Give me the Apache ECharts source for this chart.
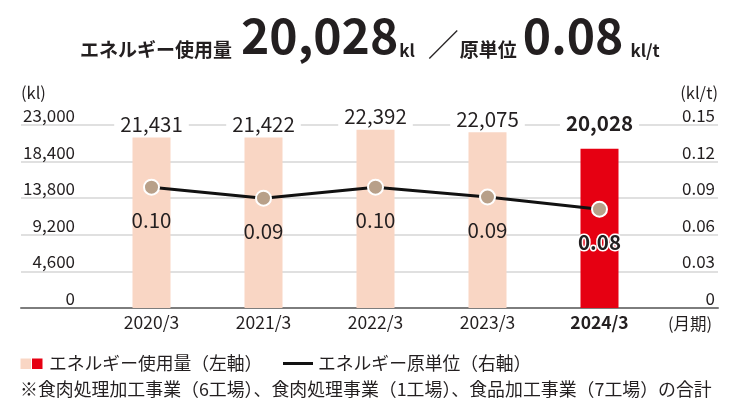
<!DOCTYPE html>
<html>
<head>
<meta charset="UTF-8">
<title>エネルギー使用量と原単位</title>
<script src="https://cdn.jsdelivr.net/npm/echarts/dist/echarts.min.js"></script>
<style>
  html, body { margin: 0; padding: 0; background: #fff; }
  #chart { width: 740px; height: 416px; }
</style>
</head>
<body>
<div id="chart"></div>
<script>
// データ
var periods = ['2020/3', '2021/3', '2022/3', '2023/3', '2024/3'];
var usage = [21431, 21422, 22392, 22075, 20028];        // kl
var intensity = [0.099, 0.090, 0.099, 0.091, 0.081];     // kl/t
var usageMax = 23000, usageStep = 4600;
var intensityMax = 0.15, intensityStep = 0.03;

var FONT = '"Noto Sans CJK JP", "Noto Sans", sans-serif';
var TXT = '#231f20';
var PINK = '#f9d6c4';
var RED = '#e60012';
var last = periods.length - 1;

var top0 = 125, bottom0 = 416 - 308;

var myChart = echarts.init(document.getElementById('chart'));

var option = {
    animation: false,
    backgroundColor: '#fff',
    textStyle: { fontFamily: FONT, color: TXT },
    title: {
        left: 80, top: 21, padding: 0,
        text: '{a|エネルギー使用量}{b|' + usage[last].toLocaleString('en-US') + '}{c|kl}{d|／}{e|原単位}{f|' +
              intensity[last].toFixed(2) + '}{g|kl/t}',
        textStyle: {
            rich: {
                a: { fontFamily: FONT, fontSize: 19, fontWeight: 'bold', color: TXT, lineHeight: 15, verticalAlign: 'bottom' },
                b: { fontFamily: FONT, fontSize: 48, fontWeight: 'bold', color: TXT, lineHeight: 38.4, verticalAlign: 'bottom', padding: [0, 0, 0, 9] },
                c: { fontFamily: FONT, fontSize: 17, fontWeight: 'bold', color: TXT, lineHeight: 13.6, verticalAlign: 'bottom', padding: [0, 0, 0, 1] },
                d: { fontFamily: FONT, fontSize: 31, fontWeight: 'normal', color: TXT, lineHeight: 24.8, verticalAlign: 'bottom', padding: [0, 1, 0, 13] },
                e: { fontFamily: FONT, fontSize: 19, fontWeight: 'bold', color: TXT, lineHeight: 15, verticalAlign: 'bottom' },
                f: { fontFamily: FONT, fontSize: 48, fontWeight: 'bold', color: TXT, lineHeight: 38.4, verticalAlign: 'bottom', padding: [0, 0, 0, 6] },
                g: { fontFamily: FONT, fontSize: 17, fontWeight: 'bold', color: TXT, lineHeight: 13.6, verticalAlign: 'bottom', padding: [0, 0, 0, 7] }
            }
        }
    },
    grid: [
        // 目盛り線・軸ラベル用
        { left: 21, right: 22, top: top0, bottom: bottom0 },
        // データ用
        { left: 95.5, right: 84.5, top: top0, bottom: bottom0 }
    ],
    xAxis: [
        {
            gridIndex: 0, type: 'category', data: [''],
            axisLine: { show: true, lineStyle: { color: '#7d7d7d', width: 2 } },
            axisTick: { show: false }, axisLabel: { show: false }
        },
        {
            gridIndex: 1, type: 'category',
            data: periods.map(function (p, i) {
                return i === last ? { value: p, textStyle: { fontWeight: 'bold' } } : p;
            }),
            axisLine: { show: false }, axisTick: { show: false },
            axisLabel: { fontSize: 17.5, color: TXT, margin: 6, fontFamily: FONT }
        }
    ],
    yAxis: [
        {
            gridIndex: 0, type: 'value', position: 'left',
            min: 0, max: usageMax, interval: usageStep,
            name: '(kl)', nameLocation: 'end', nameGap: 32,
            nameTextStyle: { align: 'left', verticalAlign: 'middle', fontSize: 16.5, color: TXT, fontFamily: FONT },
            axisLine: { show: false }, axisTick: { show: false },
            splitLine: { lineStyle: { color: '#d6d6d6', width: 1.5 } },
            axisLabel: {
                inside: true, margin: 54, align: 'right', verticalAlign: 'bottom',
                fontSize: 17, color: TXT, fontFamily: FONT, padding: [0, 0, 1, 0],
                formatter: function (v) { return v.toLocaleString('en-US'); }
            }
        },
        {
            gridIndex: 0, type: 'value', position: 'right',
            min: 0, max: intensityMax, interval: intensityStep,
            name: '(kl/t)', nameLocation: 'end', nameGap: 32,
            nameTextStyle: { align: 'right', verticalAlign: 'middle', fontSize: 16.5, color: TXT, fontFamily: FONT },
            axisLine: { show: false }, axisTick: { show: false },
            splitLine: { show: false },
            axisLabel: {
                inside: true, margin: 3, align: 'right', verticalAlign: 'bottom',
                fontSize: 17, color: TXT, fontFamily: FONT, padding: [0, 0, 1, 0],
                formatter: function (v) { return v === 0 ? '0' : v.toFixed(2); }
            }
        },
        { gridIndex: 1, type: 'value', min: 0, max: usageMax, show: false },
        { gridIndex: 1, type: 'value', min: 0, max: intensityMax, show: false }
    ],
    series: [
        {
            name: 'エネルギー使用量', type: 'bar', xAxisIndex: 1, yAxisIndex: 2,
            barWidth: 38, z: 3,
            data: usage.map(function (v, i) {
                var item = { value: v, itemStyle: { color: i === last ? RED : PINK } };
                if (i === last) item.label = { fontWeight: 'bold', distance: 15 };
                return item;
            }),
            label: {
                show: true, position: 'top', distance: 3,
                fontSize: 20.5, color: TXT, fontFamily: FONT,
                backgroundColor: '#fff', padding: [0, 6],
                formatter: function (p) { return p.value.toLocaleString('en-US'); }
            }
        },
        {
            name: 'エネルギー原単位', type: 'line', xAxisIndex: 1, yAxisIndex: 3,
            z: 5, symbol: 'circle', symbolSize: 15,
            itemStyle: { color: '#b8a089', borderColor: '#fff', borderWidth: 2 },
            lineStyle: { color: '#111', width: 3 },
            data: intensity.map(function (v, i) {
                var item = { value: v };
                if (i === last) item.label = { fontWeight: 'bold', textBorderColor: '#fff', textBorderWidth: 3 };
                return item;
            }),
            label: {
                show: true, position: 'bottom', distance: 14,
                fontSize: 20.5, color: TXT, fontFamily: FONT,
                formatter: function (p) { return p.value.toFixed(2); }
            }
        }
    ],
    graphic: [
        { type: 'text', x: 690, y: 324, style: { text: '(月期)', font: '16.5px ' + FONT, fill: TXT, align: 'center', verticalAlign: 'middle' } },
        // 凡例
        { type: 'rect', shape: { x: 20.5, y: 358.5, width: 10.5, height: 10.5 }, style: { fill: PINK } },
        { type: 'rect', shape: { x: 32, y: 358.5, width: 10.5, height: 10.5 }, style: { fill: RED } },
        { type: 'text', x: 49, y: 363.5, style: { text: 'エネルギー使用量（左軸）', font: '17.8px ' + FONT, fill: TXT, verticalAlign: 'middle' } },
        { type: 'line', shape: { x1: 283, y1: 363.5, x2: 313, y2: 363.5 }, style: { stroke: '#111', lineWidth: 3 } },
        { type: 'text', x: 318, y: 363.5, style: { text: 'エネルギー原単位（右軸）', font: '17.8px ' + FONT, fill: TXT, verticalAlign: 'middle' } },
        { type: 'text', x: 20, y: 389, style: { text: '※食肉処理加工事業（6工場）、食肉処理事業（1工場）、食品加工事業（7工場）の合計', font: '17.9px ' + FONT, fill: TXT, verticalAlign: 'middle' } }
    ]
};

myChart.setOption(option);
</script>
</body>
</html>
